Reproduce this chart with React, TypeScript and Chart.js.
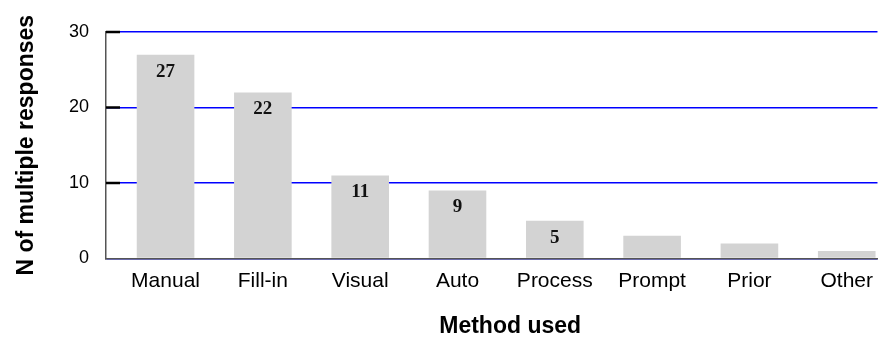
import React, { useEffect, useRef } from "react";
import { Chart, registerables } from "chart.js";

Chart.register(...registerables);

const categories = ["Manual", "Fill-in", "Visual", "Auto", "Process", "Prompt", "Prior", "Other"];
const responses = [27, 22, 11, 9, 5, 3, 2, 1];
const yTicks = [0, 10, 20, 30];
const labelThreshold = 5;

const SANS = "'Liberation Sans', Arial, Helvetica, sans-serif";
const SERIF = "'Liberation Serif', 'Times New Roman', serif";

const W = 883;
const H = 341;

export default function App() {
  const ref = useRef<HTMLCanvasElement | null>(null);

  useEffect(() => {
    const canvas = ref.current;
    if (!canvas) return;

    const tickMarks = {
      id: "tickMarks",
      afterDraw(chart: any) {
        const ctx = chart.ctx;
        const y = chart.scales.y;
        const left = chart.chartArea.left;
        ctx.save();
        ctx.strokeStyle = "#000";
        ctx.lineWidth = 2.5;
        yTicks.forEach((t) => {
          if (t === 0) return;
          const py = y.getPixelForValue(t);
          ctx.beginPath();
          ctx.moveTo(left, py);
          ctx.lineTo(left + 14, py);
          ctx.stroke();
        });
        ctx.restore();
      },
    };

    const barLabels = {
      id: "barLabels",
      afterDatasetsDraw(chart: any) {
        const ctx = chart.ctx;
        const meta = chart.getDatasetMeta(0);
        ctx.save();
        ctx.font = `bold 19px ${SERIF}`;
        ctx.fillStyle = "#111";
        ctx.textAlign = "center";
        ctx.textBaseline = "middle";
        meta.data.forEach((el: any, i: number) => {
          const v = responses[i];
          if (v < labelThreshold) return;
          ctx.fillText(String(v), el.x, el.y + 17);
        });
        ctx.restore();
      },
    };

    const xTitle = {
      id: "xTitle",
      afterDraw(chart: any) {
        const ctx = chart.ctx;
        const x = chart.scales.x;
        const cx = (x.getPixelForValue(0) + x.getPixelForValue(categories.length - 1)) / 2 + 4;
        ctx.save();
        ctx.font = `bold 23px ${SANS}`;
        ctx.fillStyle = "#000";
        ctx.textAlign = "center";
        ctx.textBaseline = "middle";
        ctx.fillText("Method used", cx, 327);
        ctx.restore();
      },
    };

    const chart = new Chart(canvas, {
      type: "bar",
      data: {
        datasets: [
          {
            data: responses.map((v, i) => ({ x: i, y: v })),
            backgroundColor: "#d3d3d3",
            borderWidth: 0,
            barPercentage: 0.592,
            categoryPercentage: 1,
          },
        ],
      },
      options: {
        responsive: false,
        animation: false,
        devicePixelRatio: 1,
        layout: { padding: { top: 32, right: 0, left: 0, bottom: 0 } },
        plugins: {
          legend: { display: false },
          tooltip: { enabled: false },
        },
        scales: {
          x: {
            type: "linear",
            offset: false,
            min: -0.612,
            max: 7.316,
            grid: { display: false, drawTicks: false, offset: false },
            border: { display: true, color: "#555", width: 1.5 },
            ticks: {
              stepSize: 1,
              includeBounds: false,
              autoSkip: false,
              maxRotation: 0,
              minRotation: 0,
              padding: 10,
              color: "#000",
              font: { family: SANS, size: 21 },
              callback: (v: any) => (Number.isInteger(v) && categories[v] ? categories[v] : ""),
            },
            afterFit: (s: any) => {
              s.height = 82.5;
            },
          },
          y: {
            min: yTicks[0],
            max: yTicks[yTicks.length - 1],
            grid: { color: "#0000ff", lineWidth: 1.5, drawTicks: false },
            border: { display: true, color: "#555", width: 1.5 },
            ticks: {
              stepSize: 10,
              padding: 17,
              color: "#000",
              font: { family: SANS, size: 18 },
            },
            title: {
              display: true,
              text: "N of multiple responses",
              color: "#000",
              font: { family: SANS, size: 23, weight: "bold" },
              padding: { top: 13, bottom: 0 },
            },
            afterFit: (s: any) => {
              s.width = 106;
            },
          },
        },
      },
      plugins: [tickMarks, barLabels, xTitle],
    });

    return () => chart.destroy();
  }, []);

  return (
    <div style={{ position: "fixed", left: 0, top: 0, width: W, height: H, background: "#fff" }}>
      <canvas ref={ref} width={W} height={H} style={{ width: W, height: H, display: "block" }} />
    </div>
  );
}
